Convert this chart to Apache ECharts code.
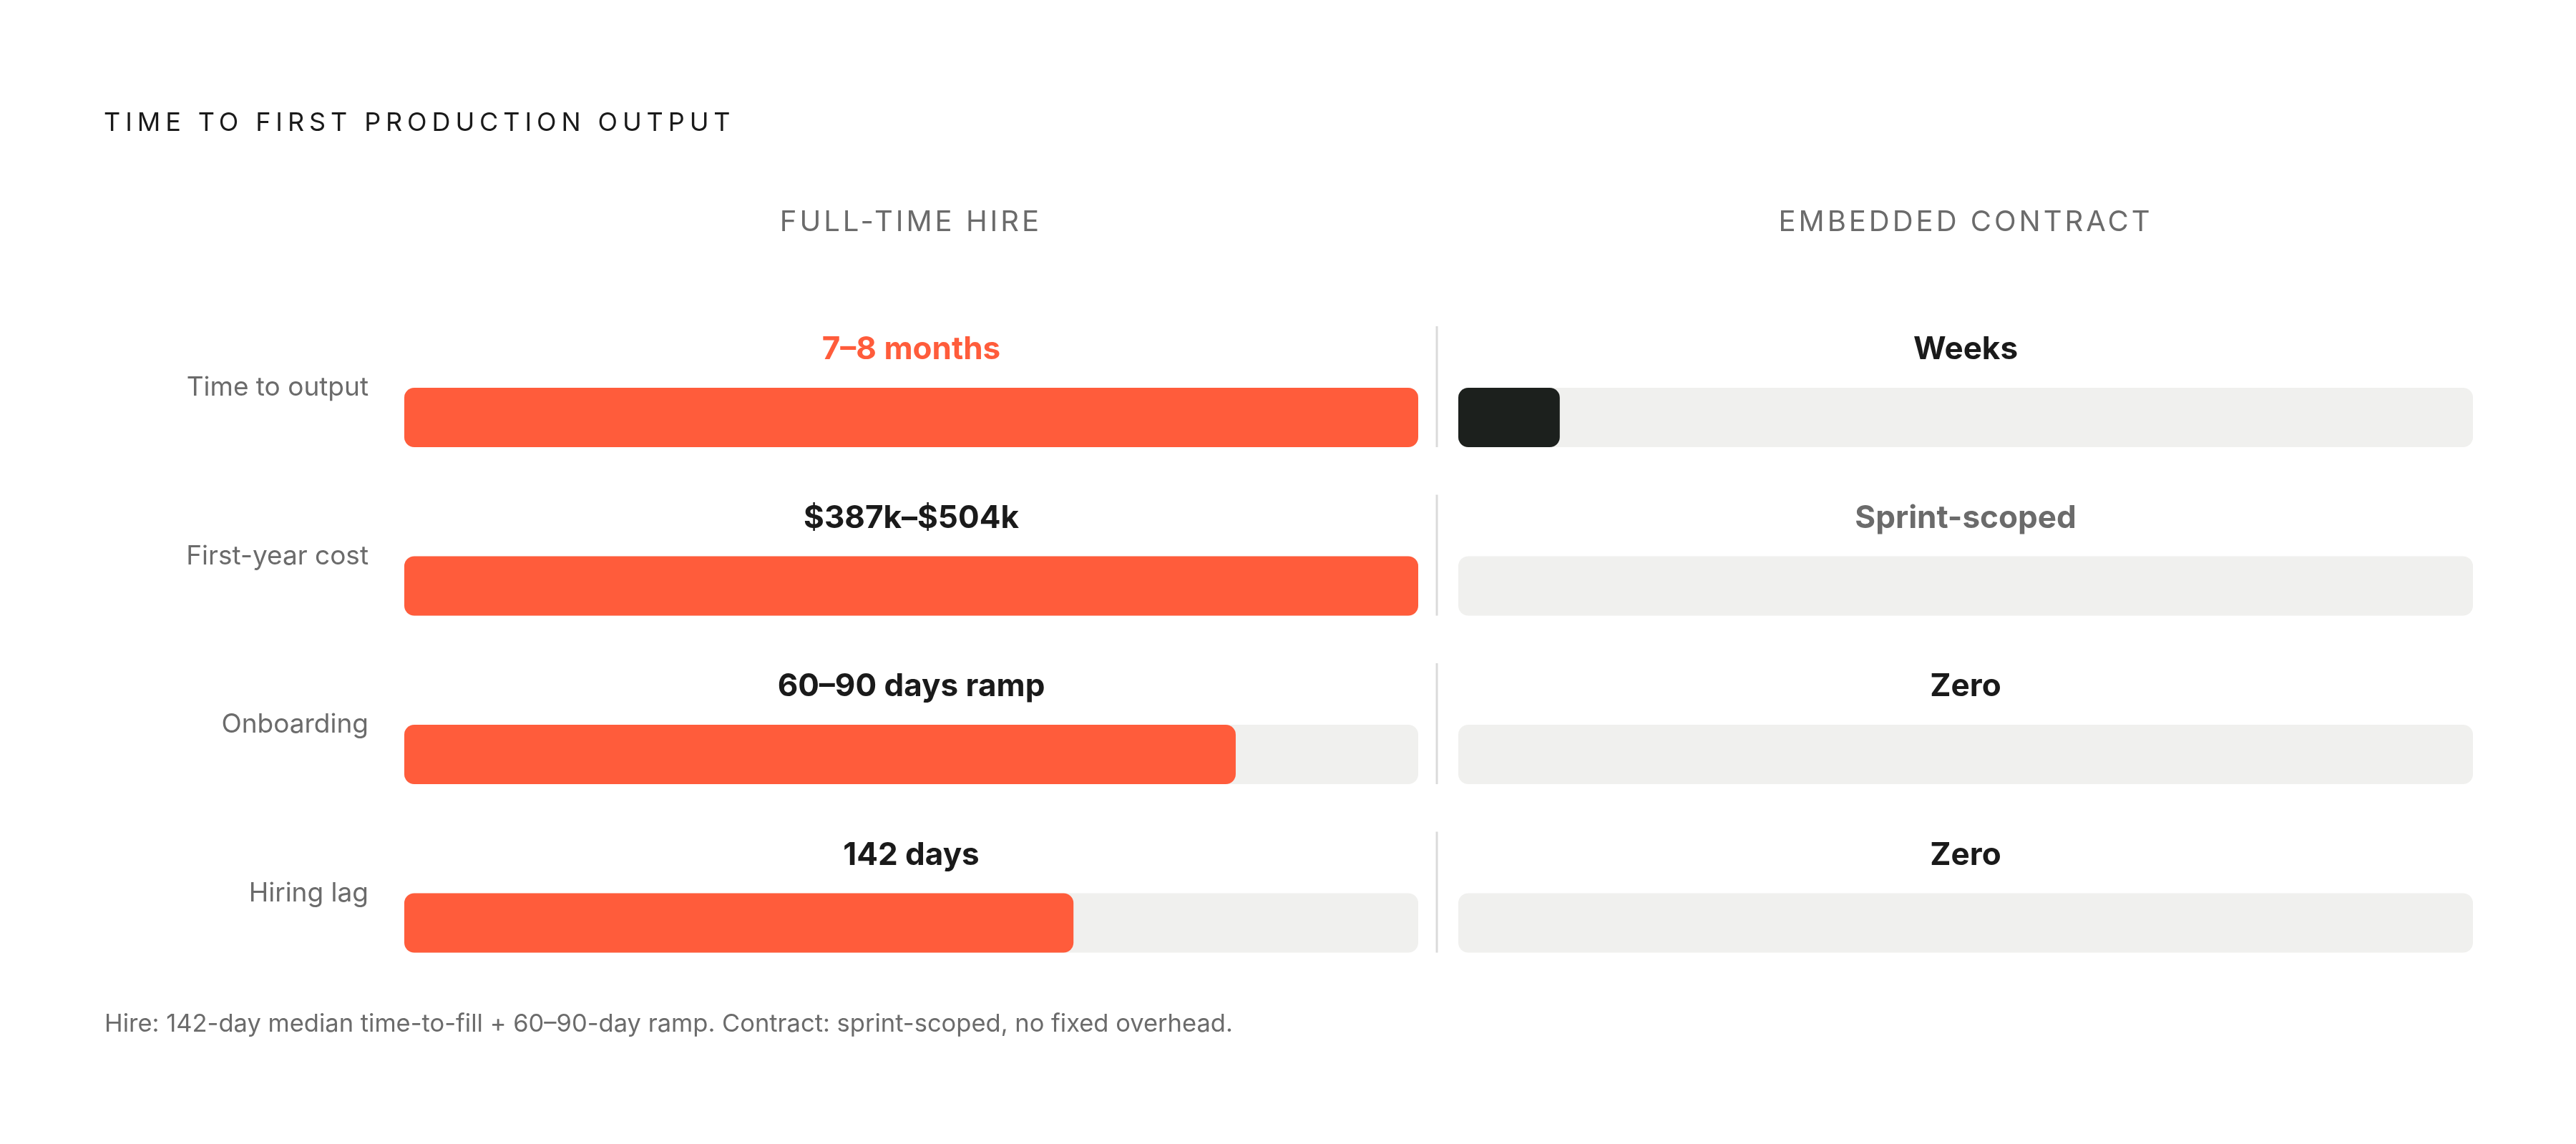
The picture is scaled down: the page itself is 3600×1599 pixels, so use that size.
<!DOCTYPE html>
<html>
<head>
<meta charset="utf-8">
<title>Time to first production output</title>
<script src="https://cdn.jsdelivr.net/npm/echarts@6/dist/echarts.min.js"></script>
<style>
  html, body { margin: 0; padding: 0; background: #ffffff; }
  #chart { width: 3600px; height: 1599px; }
</style>
</head>
<body>
<div id="chart"></div>
<script>
// chart data
const chartTitle = 'TIME TO FIRST PRODUCTION OUTPUT';
const columnNames = ['FULL-TIME HIRE', 'EMBEDDED CONTRACT'];
const rowLabels = ['Time to output', 'First-year cost', 'Onboarding', 'Hiring lag'];
const hireValues = [100, 100, 82, 66];
const hireTexts = ['7–8 months', '$387k–$504k', '60–90 days ramp', '142 days'];
const contractValues = [10, 0, 0, 0];
const contractTexts = ['Weeks', 'Sprint-scoped', 'Zero', 'Zero'];
const trackMax = 100;
const footnote = 'Hire: 142-day median time-to-fill + 60–90-day ramp. Contract: sprint-scoped, no fixed overhead.';

// colours
const ORANGE = '#ff5c3b';
const DARK = '#1c201d';
const TRACK = '#f0f0ee';
const GREY = '#6b6b6b';
const INK = '#1a1a1a';
const FONT = 'Inter, "Noto Sans", sans-serif';

const BAR_H = 83;
const DIVIDER_RISE = 86;

// zrender has no letter-spacing, so the spaced caps get it at draw time
const letterSpacing = {};
letterSpacing[chartTitle] = '6.9px';
columnNames.forEach(n => { letterSpacing[n] = '4px'; });
const nativeFillText = CanvasRenderingContext2D.prototype.fillText;
CanvasRenderingContext2D.prototype.fillText = function (text) {
  if ('letterSpacing' in this) {
    // set on every call so nothing leaks into the next text
    this.letterSpacing = letterSpacing[text] || '0px';
  }
  return nativeFillText.apply(this, arguments);
};

// label colour per row (hire: first row is the accent, contract: cost row is muted)
function hireLabelColor(i) { return i === 0 ? ORANGE : INK; }
function contractLabelColor(i) { return i === 1 ? GREY : INK; }

function trackSeries(gridIndex, texts, colorFn) {
  return {
    type: 'bar',
    xAxisIndex: gridIndex,
    yAxisIndex: gridIndex,
    silent: true,
    barWidth: BAR_H,
    barGap: '-100%',
    z: 1,
    itemStyle: { color: TRACK, borderRadius: 14 },
    data: texts.map((t, i) => ({
      value: trackMax,
      label: { color: colorFn(i) }
    })),
    label: {
      show: true,
      position: 'top',
      distance: 31,
      fontFamily: FONT,
      fontSize: 44,
      fontWeight: 700,
      formatter: p => texts[p.dataIndex]
    }
  };
}

function valueSeries(gridIndex, values, color) {
  return {
    type: 'bar',
    xAxisIndex: gridIndex,
    yAxisIndex: gridIndex,
    silent: true,
    barWidth: BAR_H,
    barGap: '-100%',
    z: 2,
    itemStyle: { color: color, borderRadius: 14 },
    data: values
  };
}

const chart = echarts.init(document.getElementById('chart'), null, { renderer: 'canvas' });

const gridTop = 465.75;
const gridHeight = 942;

const option = {
  backgroundColor: '#ffffff',
  animation: false,
  title: [
    {
      text: chartTitle,
      left: 145,
      top: 154,
      padding: 0,
      textStyle: { fontFamily: FONT, fontSize: 36, fontWeight: 400, color: INK }
    },
    {
      text: columnNames[0],
      left: 1273,
      top: 291,
      padding: 0,
      textAlign: 'center',
      textStyle: { fontFamily: FONT, fontSize: 40, fontWeight: 400, color: GREY }
    },
    {
      text: columnNames[1],
      left: 2747,
      top: 291,
      padding: 0,
      textAlign: 'center',
      textStyle: { fontFamily: FONT, fontSize: 40, fontWeight: 400, color: GREY }
    },
    {
      text: footnote,
      left: 146,
      top: 1414,
      padding: 0,
      textStyle: { fontFamily: FONT, fontSize: 34.5, fontWeight: 400, color: GREY }
    }
  ],
  grid: [
    { left: 565, width: 1417, top: gridTop, height: gridHeight },
    { left: 2038, width: 1418, top: gridTop, height: gridHeight }
  ],
  xAxis: [
    { gridIndex: 0, type: 'value', min: 0, max: trackMax, show: false },
    { gridIndex: 1, type: 'value', min: 0, max: trackMax, show: false }
  ],
  yAxis: [
    {
      gridIndex: 0,
      type: 'category',
      inverse: true,
      data: rowLabels,
      axisLine: { show: false },
      axisTick: { show: false },
      splitLine: { show: false },
      axisLabel: {
        margin: 50,
        // empty second line lifts the label to the top of the bar
        formatter: v => '{t|' + v + '}\n{s| }',
        rich: {
          t: { fontFamily: FONT, fontSize: 37, color: GREY, lineHeight: 44 },
          s: { fontFamily: FONT, fontSize: 10, lineHeight: BAR_H }
        }
      }
    },
    {
      gridIndex: 1,
      type: 'category',
      inverse: true,
      data: rowLabels,
      show: false
    }
  ],
  series: [
    trackSeries(0, hireTexts, hireLabelColor),
    valueSeries(0, hireValues, ORANGE),
    trackSeries(1, contractTexts, contractLabelColor),
    valueSeries(1, contractValues, DARK),
    {
      // thin divider in front of each contract row
      type: 'custom',
      xAxisIndex: 1,
      yAxisIndex: 1,
      silent: true,
      clip: false,
      data: rowLabels.map(name => [0, name]),
      encode: { x: 0, y: 1 },
      renderItem: function (params, api) {
        const pt = api.coord([0, api.value(1)]);
        const x = pt[0] - 30;
        return {
          type: 'line',
          shape: {
            x1: x, y1: pt[1] - BAR_H / 2 - DIVIDER_RISE,
            x2: x, y2: pt[1] + BAR_H / 2
          },
          style: { stroke: '#dadada', lineWidth: 3 }
        };
      }
    }
  ]
};

chart.setOption(option);
window.addEventListener('resize', () => chart.resize());
</script>
</body>
</html>
